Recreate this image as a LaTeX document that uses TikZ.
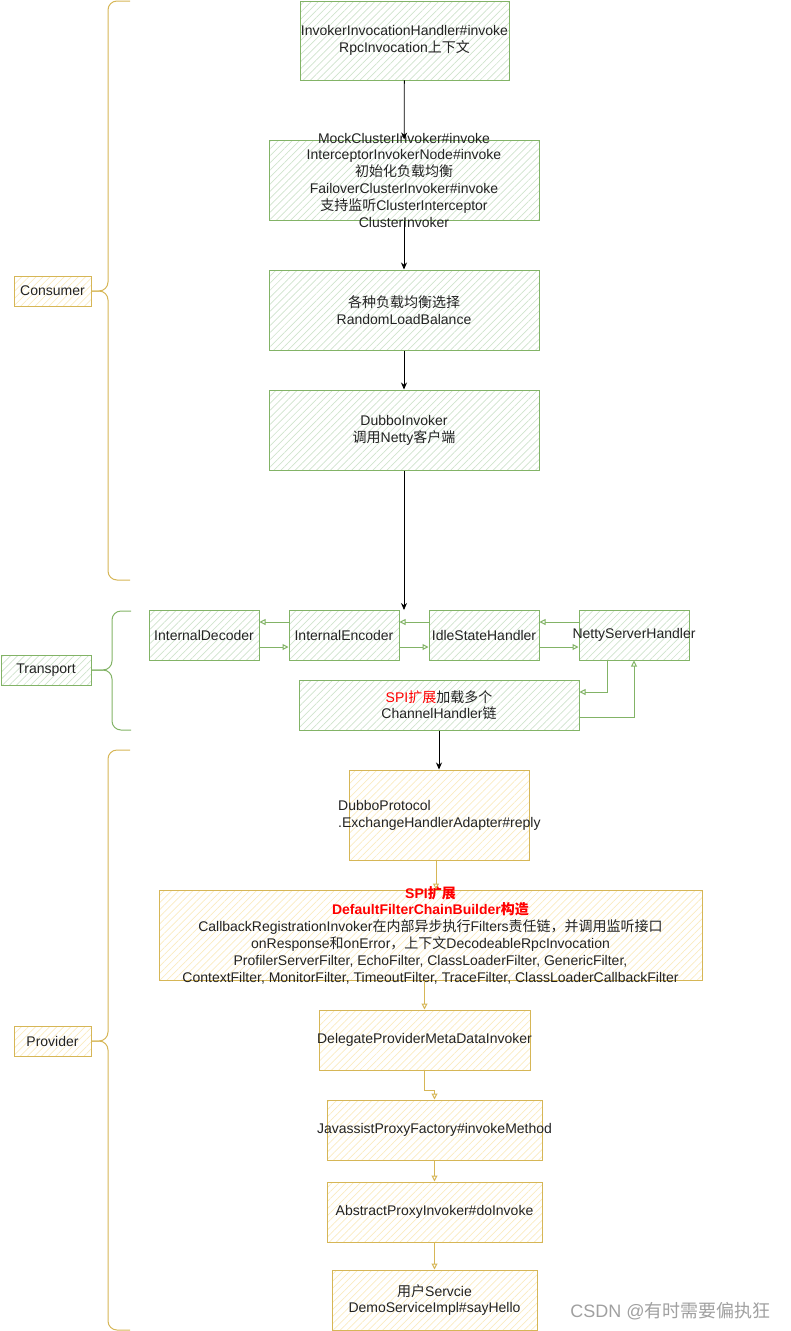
\documentclass[tikz,border=0pt]{standalone}
\usepackage{fontspec}
\setmainfont{Liberation Sans}
\newfontfamily\cjk{Noto Sans CJK SC}
\newcommand{\zh}[1]{{\cjk #1}}
\usetikzlibrary{arrows.meta,patterns.meta}
\definecolor{gstroke}{HTML}{82B366}
\definecolor{ghatch}{HTML}{CFE3CC}
\definecolor{ystroke}{HTML}{D6B656}
\definecolor{yhatch}{HTML}{FAEBC0}
\definecolor{wmark}{HTML}{A0A0A0}
\definecolor{ink}{HTML}{222222}
\tikzset{
  gbox/.style={draw=gstroke, line width=1pt, pattern={Lines[angle=45,distance=5pt,line width=0.7pt]}, pattern color=ghatch, inner sep=0pt, align=center},
  ybox/.style={draw=ystroke, line width=1pt, pattern={Lines[angle=45,distance=5pt,line width=0.7pt]}, pattern color=yhatch, inner sep=0pt, align=center},
  txt/.style={inner sep=0pt, align=center},
  blackarrow/.style={line width=0.8pt, -{Stealth[length=7pt,width=6pt]}},
  garrow/.style={draw=gstroke, line width=1pt, -{Triangle[open,length=6pt,width=6pt]}},
  yarrow/.style={draw=ystroke, line width=1pt, -{Triangle[open,length=6pt,width=6pt]}},
  gbrace/.style={draw=gstroke, line width=1pt, rounded corners=9pt},
  ybrace/.style={draw=ystroke, line width=1pt, rounded corners=9pt}
}
\begin{document}
\begin{tikzpicture}[x=1pt,y=-1pt,font=\fontsize{14}{16.8}\selectfont,text=ink]
\useasboundingbox (0,0) rectangle (791,1331);

% consumer
\node[gbox, minimum width=209, minimum height=79] (invoke) at (404.5,40.5) {InvokerInvocationHandler\#invoke\\RpcInvocation\zh{上下文}};
\node[gbox, minimum width=270, minimum height=80] (cluster) at (404,180) {};
\node[txt] at (cluster) {MockClusterInvoker\#invoke\\InterceptorInvokerNode\#invoke\\\zh{初始化负载均衡}\\FailoverClusterInvoker\#invoke\\\zh{支持监听}ClusterInterceptor\\ClusterInvoker};
\node[gbox, minimum width=270, minimum height=80] (balance) at (404,310) {\zh{各种负载均衡选择}\\RandomLoadBalance};
\node[gbox, minimum width=270, minimum height=80] (dubboinv) at (404,430) {DubboInvoker\\\zh{调用}Netty\zh{客户端}};

% transport
\node[gbox, minimum width=110, minimum height=50] (decoder) at (204,635) {InternalDecoder};
\node[gbox, minimum width=110, minimum height=50] (encoder) at (344,635) {InternalEncoder};
\node[gbox, minimum width=110, minimum height=50] (idle) at (484,635) {IdleStateHandler};
\node[gbox, minimum width=110, minimum height=50] (netty) at (634,635) {};
\node[txt] at (netty) {NettyServerHandler};
\node[gbox, minimum width=280, minimum height=50] (spichain) at (439,705) {\textcolor{red}{SPI\zh{扩展}}\zh{加载多个}\\ChannelHandler\zh{链}};
\coordinate (transin) at (404,610);

% provider
\node[ybox, minimum width=180, minimum height=90] (protocol) at (439,815) {};
\node[txt, anchor=west, align=left] at (338,815) {DubboProtocol\\.ExchangeHandlerAdapter\#reply};
\node[ybox, minimum width=543, minimum height=90] (filters) at (430.5,935) {};
\node[txt] at (filters) {{\bfseries\color{red}SPI\zh{扩展}}\\{\bfseries\color{red}DefaultFilterChainBuilder\zh{构造}}\\CallbackRegistrationInvoker\zh{在内部异步执行}Filters\zh{责任链，并调用监听接口}\\onResponse\zh{和}onError\zh{，上下文}DecodeableRpcInvocation\\ProfilerServerFilter, EchoFilter, ClassLoaderFilter, GenericFilter,\\ContextFilter, MonitorFilter, TimeoutFilter, TraceFilter, ClassLoaderCallbackFilter};
\node[ybox, minimum width=211, minimum height=60] (delegate) at (424.5,1040) {};
\node[txt] at (delegate) {DelegateProviderMetaDataInvoker};
\node[ybox, minimum width=215, minimum height=60] (javassist) at (434.5,1130) {};
\node[txt] at (javassist) {JavassistProxyFactory\#invokeMethod};
\node[ybox, minimum width=215, minimum height=60] (abstractinv) at (434.5,1212) {AbstractProxyInvoker\#doInvoke};
\node[ybox, minimum width=205, minimum height=60] (userservice) at (434.5,1300) {\zh{用户}Servcie\\DemoServiceImpl\#sayHello};

% side labels
\node[ybox, minimum width=77, minimum height=30] (consumer) at (52.5,291) {Consumer};
\node[gbox, minimum width=90, minimum height=30] (transport) at (46,670) {Transport};
\node[ybox, minimum width=77, minimum height=30] (provider) at (52.5,1041) {Provider};

\draw[ybrace] (130,1) -- (108,1) -- (108,291) -- (consumer.east);
\draw[ybrace] (130,580) -- (108,580) -- (108,291) -- (consumer.east);
\draw[gbrace] (131,611) -- (112,611) -- (112,670) -- (transport.east);
\draw[gbrace] (131,730) -- (112,730) -- (112,670) -- (transport.east);
\draw[ybrace] (130,750) -- (108,750) -- (108,1041) -- (provider.east);
\draw[ybrace] (130,1330) -- (108,1330) -- (108,1041) -- (provider.east);

% arrows
\draw[blackarrow] (invoke) -- (cluster);
\draw[blackarrow] (cluster) -- (balance);
\draw[blackarrow] (balance) -- (dubboinv);
\draw[blackarrow] (dubboinv) -- (transin);

\draw[garrow] ([yshift=13pt]encoder.west) -- ([yshift=13pt]decoder.east);
\draw[garrow] ([yshift=-12pt]decoder.east) -- ([yshift=-12pt]encoder.west);
\draw[garrow] ([yshift=13pt]idle.west) -- ([yshift=13pt]encoder.east);
\draw[garrow] ([yshift=-12pt]encoder.east) -- ([yshift=-12pt]idle.west);
\draw[garrow] ([yshift=13pt]netty.west) -- ([yshift=13pt]idle.east);
\draw[garrow] ([yshift=-12pt]idle.east) -- ([yshift=-12pt]netty.west);
\draw[garrow] ([xshift=-27pt]netty.south) |- ([yshift=13pt]spichain.east);
\draw[garrow] ([yshift=-12pt]spichain.east) -| (netty.south);
\draw[blackarrow] (spichain) -- (protocol);

\draw[yarrow] ([xshift=-3pt]protocol.south) -- ([xshift=-3pt]protocol.south |- filters.north);
\draw[yarrow] (filters.south -| delegate.south) -- (delegate.north);
\draw[yarrow] (delegate.south) -- ++(0,20) -| (javassist.north);
\draw[yarrow] (javassist) -- (abstractinv);
\draw[yarrow] (abstractinv) -- (userservice);

\node[txt, text=wmark, font=\fontsize{18}{20}\selectfont] (watermark) at (670.5,1311) {CSDN @\zh{有时需要偏执狂}};
\end{tikzpicture}
\end{document}
